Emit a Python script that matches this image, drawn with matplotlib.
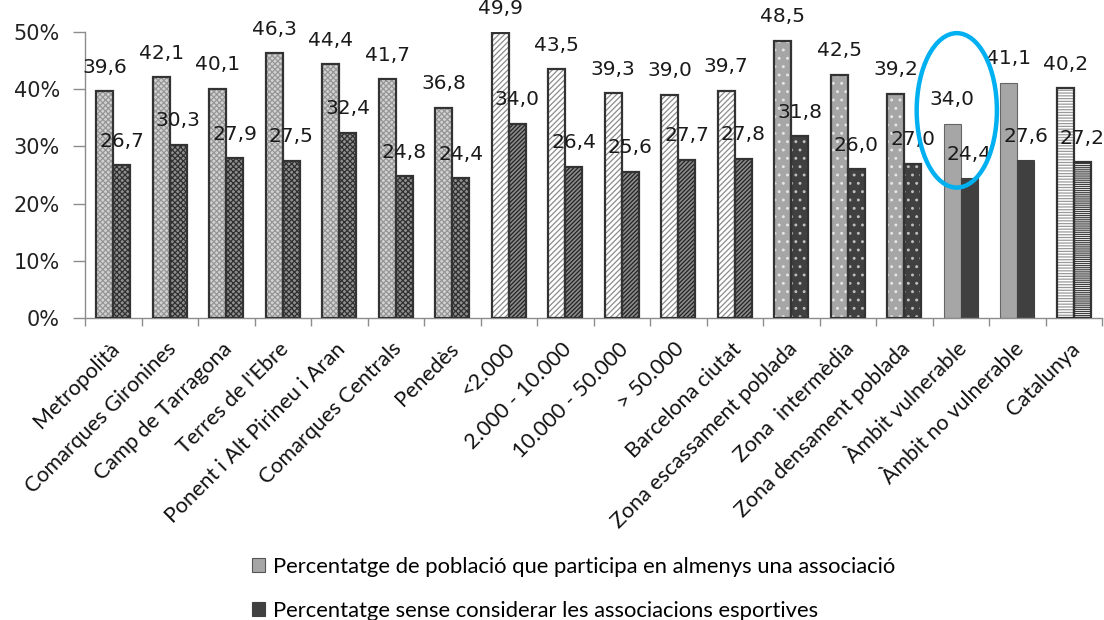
import matplotlib
matplotlib.use("Agg")
import matplotlib.pyplot as plt
import matplotlib.transforms as mtransforms
from matplotlib.patches import Patch, Ellipse
import numpy as np

categories = ["Metropolità", "Comarques Gironines", "Camp de Tarragona", "Terres de l'Ebre",
              "Ponent i Alt Pirineu i Aran", "Comarques Centrals", "Penedès", "<2.000",
              "2.000 - 10.000", "10.000 - 50.000", "> 50.000", "Barcelona ciutat",
              "Zona escassament poblada", "Zona  intermèdia", "Zona densament poblada",
              "Àmbit vulnerable", "Àmbit no vulnerable", "Catalunya"]
participa = [39.6, 42.1, 40.1, 46.3, 44.4, 41.7, 36.8, 49.9, 43.5, 39.3, 39.0, 39.7,
             48.5, 42.5, 39.2, 34.0, 41.1, 40.2]
sense_esport = [26.7, 30.3, 27.9, 27.5, 32.4, 24.8, 24.4, 34.0, 26.4, 25.6, 27.7, 27.8,
                31.8, 26.0, 27.0, 24.4, 27.6, 27.2]
series_names = ["Percentatge de població que participa en almenys una associació",
                "Percentatge sense considerar les associacions esportives"]
yticks = [0, 10, 20, 30, 40, 50]
highlight = "Àmbit vulnerable"

# style per category group: (face, hatch, hatchcolor, border, lw) for light and dark bars
styles = {
    "cross": (("#d2d2d2", "xxxxxx", "#969696", "#333333", 1.6),
              ("#909090", "xxxxxx", "#303030", "#333333", 1.6)),
    "diag": (("#ffffff", "//////", "#8c8c8c", "#333333", 1.6),
             ("#8c8c8c", "////////", "#222222", "#333333", 1.6)),
    "dots": (("#a6a6a6", "..", "#e6e6e6", "#333333", 1.6),
             ("#404040", "..", "#c0c0c0", "#333333", 1.6)),
    "solid": (("#a6a6a6", "", "#a6a6a6", "#666666", 0.8),
              ("#404040", "", "#404040", "#404040", 0.8)),
    "horiz": (("#ffffff", "------", "#9a9a9a", "#333333", 1.6),
              ("#ffffff", "--------", "#404040", "#333333", 1.6)),
}
group_style = ["cross"] * 7 + ["diag"] * 5 + ["dots"] * 3 + ["solid"] * 2 + ["horiz"]

plt.rcParams['hatch.linewidth'] = 0.9

fig = plt.figure(figsize=(11.04, 6.2), dpi=100)
W, H = 1104, 620
x0, x1, ytop, ybot = 85, 1102, 32, 318
ax = fig.add_axes([x0 / W, (H - ybot) / H, (x1 - x0) / W, (ybot - ytop) / H])

x = np.arange(len(categories))
w = 0.3

for k, (vals, off) in enumerate([(participa, -w / 2), (sense_esport, w / 2)]):
    bars = ax.bar(x + off, vals, w, linewidth=0, zorder=2)
    borders = ax.bar(x + off, vals, w, fill=False, zorder=3)
    for i, (b, bb) in enumerate(zip(bars, borders)):
        face, hatch, hc, border, lw = styles[group_style[i]][k]
        b.set_facecolor(face)
        b.set_edgecolor(hc)
        b.set_hatch(hatch if hatch else None)
        b.set_linewidth(0)
        bb.set_edgecolor(border)
        bb.set_linewidth(lw)
    for xi, v in zip(x + off, vals):
        ax.annotate(f"{v:.1f}".replace(".", ","), (xi, v), xytext=(0, 24),
                    textcoords="offset pixels", ha="center", va="center",
                    fontsize=14.5, family="DejaVu Sans", color="#1a1a1a",
                    annotation_clip=False, zorder=5)

ax.set_xlim(-0.5, len(categories) - 0.5)
ax.set_ylim(0, 50)
ax.set_yticks(yticks)
ax.set_yticklabels([f"{t}%" for t in yticks], fontsize=15, family="DejaVu Sans", color="#222222")
ax.tick_params(axis="y", direction="out", length=9, width=1, color="#8c8c8c", pad=9)

ax.set_xticks(x)
ax.set_xticklabels(categories, rotation=45, ha="right", rotation_mode="anchor",
                   fontsize=15.5, family="Lato", color="#111111")
ax.tick_params(axis="x", which="major", length=0, pad=15)
ax.set_xticks(np.arange(-0.5, len(categories), 1), minor=True)
ax.tick_params(axis="x", which="minor", direction="out", length=6, width=1, color="#8c8c8c")
offset = mtransforms.ScaledTranslation(-0.04, 0, fig.dpi_scale_trans)
for lab in ax.get_xticklabels():
    lab.set_transform(lab.get_transform() + offset)

for s in ["top", "right"]:
    ax.spines[s].set_visible(False)
for s in ["left", "bottom"]:
    ax.spines[s].set_color("#8c8c8c")
    ax.spines[s].set_linewidth(1)

# highlight ellipse
hi = categories.index(highlight)
ell = Ellipse((hi - 0.07, 36.3), 1.42, 27.0, fill=False, edgecolor="#00b0f0",
              linewidth=3.2, zorder=6, clip_on=False)
ax.add_patch(ell)

handles = [Patch(facecolor="#a6a6a6", edgecolor="#555555", linewidth=0.8),
           Patch(facecolor="#404040", edgecolor="#404040", linewidth=0.8)]
fig.legend(handles, series_names, loc="upper left", bbox_to_anchor=(232 / W, 1 - 537 / H),
           frameon=False, prop={"family": "Lato", "size": 15.8},
           handlelength=0.6, handleheight=0.6, handletextpad=0.35, labelspacing=1.1)

fig.savefig("out.png", dpi=100)
